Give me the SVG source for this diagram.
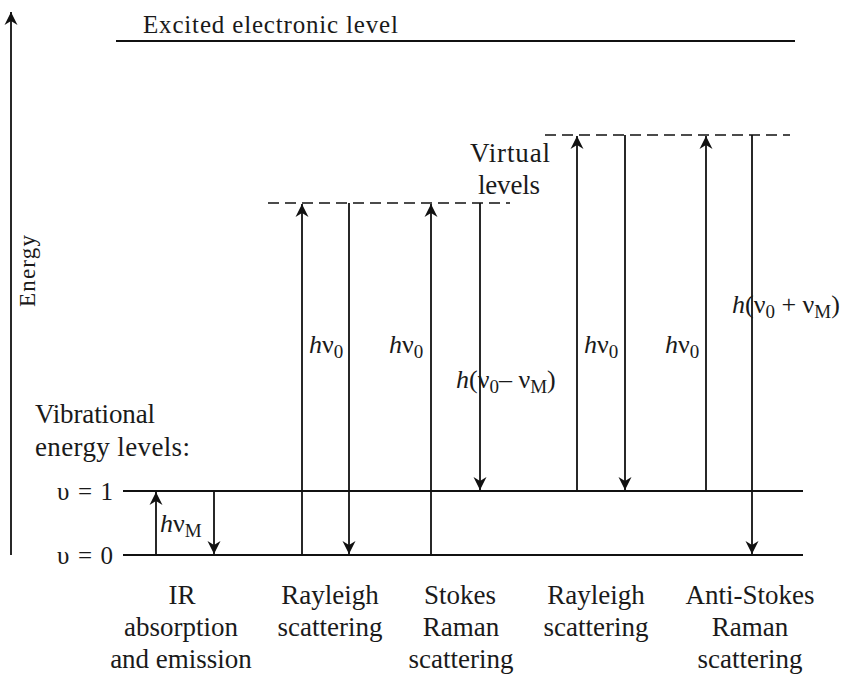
<svg xmlns="http://www.w3.org/2000/svg" width="843" height="675" viewBox="0 0 843 675">
<style>
text{font-family:"Liberation Serif","DejaVu Serif",serif;fill:#1a1a1a;font-size:27px}
.lvl{stroke:#111;stroke-width:2;fill:none}
.dash{stroke:#111;stroke-width:1.6;stroke-dasharray:11,6;fill:none}
.arr{stroke:#111;stroke-width:1.8;fill:none}
.up{marker-end:url(#ah)}
.c{text-anchor:middle}
.i{font-style:italic}
.m{font-size:26px}
.s{font-size:19px}
</style>
<defs>
<marker id="ah" markerUnits="userSpaceOnUse" markerWidth="16" markerHeight="16" refX="0" refY="0" viewBox="-14 -8 16 16" orient="auto">
<path d="M0,0 L-13,-6.5 L-9,0 L-13,6.5 Z" fill="#111"/>
</marker>
</defs>
<rect width="843" height="675" fill="#fff"/>
<g id="axis">
<line class="arr up" x1="11" y1="555" x2="11" y2="12"/>
<text transform="translate(35,271) rotate(-90)" class="c" style="font-size:23px" textLength="72">Energy</text>
</g>
<g id="levels">
<line class="lvl" x1="116" y1="41" x2="795" y2="41"/>
<text x="143" y="33" style="font-size:25px" textLength="255">Excited electronic level</text>
<line class="lvl" x1="123" y1="491" x2="803" y2="491"/>
<line class="lvl" x1="123" y1="555" x2="803" y2="555"/>
<text x="35" y="423" textLength="120">Vibrational</text>
<text x="35" y="456" textLength="155">energy  levels:</text>
<text x="57" y="500" style="font-size:25px" textLength="56">υ = 1</text>
<text x="57" y="564" style="font-size:25px" textLength="56">υ = 0</text>
<line class="dash" x1="268" y1="203" x2="510" y2="203"/>
<line class="dash" x1="545" y1="135" x2="790" y2="135"/>
<text x="470" y="162" textLength="80">Virtual</text>
<text x="478" y="194" textLength="62">levels</text>
</g>
<g id="connectors">
<line class="arr up" x1="156" y1="555" x2="156" y2="492"/>
<line class="arr up" x1="214" y1="491" x2="214" y2="554"/>
<line class="arr up" x1="302" y1="555" x2="302" y2="204"/>
<line class="arr up" x1="349" y1="203" x2="349" y2="554"/>
<line class="arr up" x1="431" y1="555" x2="431" y2="204"/>
<line class="arr up" x1="480" y1="203" x2="480" y2="490"/>
<line class="arr up" x1="577" y1="491" x2="577" y2="136"/>
<line class="arr up" x1="625" y1="135" x2="625" y2="490"/>
<line class="arr up" x1="706" y1="491" x2="706" y2="136"/>
<line class="arr up" x1="752" y1="135" x2="752" y2="554"/>
</g>
<g id="ir">
<text x="160" y="532" class="m"><tspan class="i">h</tspan>ν<tspan class="s" dy="5">M</tspan></text>
<text class="c" x="182" y="604">IR</text>
<text class="c" x="181" y="636">absorption</text>
<text class="c" x="181" y="668">and emission</text>
</g>
<g id="rayleigh1">
<text x="309" y="353" class="m"><tspan class="i">h</tspan>ν<tspan class="s" dy="5">0</tspan></text>
<text class="c" x="330" y="604">Rayleigh</text>
<text class="c" x="330" y="636">scattering</text>
</g>
<g id="stokes">
<text x="389" y="353" class="m"><tspan class="i">h</tspan>ν<tspan class="s" dy="5">0</tspan></text>
<text x="456" y="388" class="m"><tspan class="i">h</tspan>(ν<tspan class="s" dy="5">0</tspan><tspan dy="-5">– ν</tspan><tspan class="s" dy="5">M</tspan><tspan dy="-5">)</tspan></text>
<text class="c" x="460" y="604">Stokes</text>
<text class="c" x="461" y="636">Raman</text>
<text class="c" x="461" y="668">scattering</text>
</g>
<g id="rayleigh2">
<text x="584" y="353" class="m"><tspan class="i">h</tspan>ν<tspan class="s" dy="5">0</tspan></text>
<text class="c" x="596" y="604">Rayleigh</text>
<text class="c" x="596" y="636">scattering</text>
</g>
<g id="antistokes">
<text x="665" y="353" class="m"><tspan class="i">h</tspan>ν<tspan class="s" dy="5">0</tspan></text>
<text x="732" y="313" class="m"><tspan class="i">h</tspan>(ν<tspan class="s" dy="5">0</tspan><tspan dy="-5"> + ν</tspan><tspan class="s" dy="5">M</tspan><tspan dy="-5">)</tspan></text>
<text class="c" x="750" y="604">Anti-Stokes</text>
<text class="c" x="750" y="636">Raman</text>
<text class="c" x="750" y="668">scattering</text>
</g>
</svg>
